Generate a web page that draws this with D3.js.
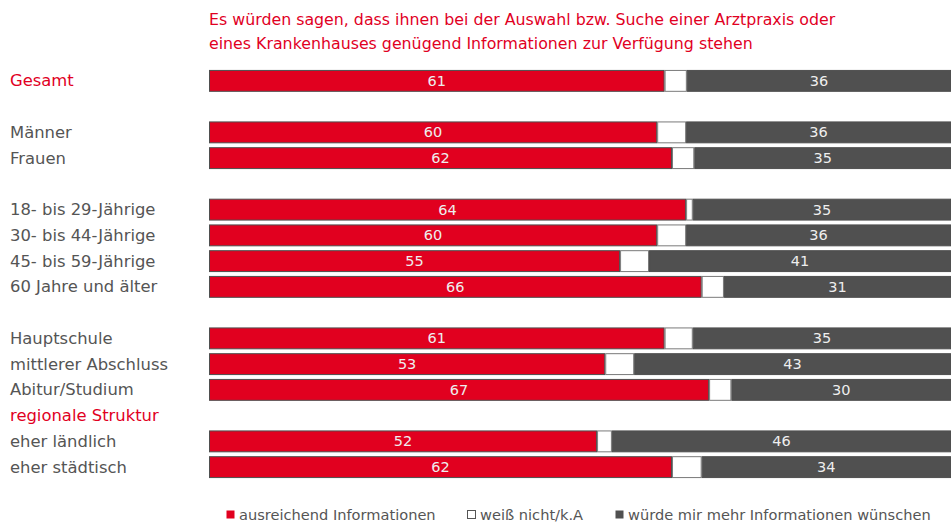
<!DOCTYPE html>
<html>
  <body style="margin:0;background:#fff">
    <style>
      text { font-family: "DejaVu Sans", Verdana, sans-serif; }
    </style>
    <svg id="chart" width="951" height="524"></svg>
    <script src="https://cdn.jsdelivr.net/npm/d3@7"></script>
    <script>
      // rows, '' = spacer, heading rows have no bar
      const rows = ['Gesamt', '', 'Männer', 'Frauen', '', '18- bis 29-Jährige', '30- bis 44-Jährige',
        '45- bis 59-Jährige', '60 Jahre und älter', '', 'Hauptschule', 'mittlerer Abschluss',
        'Abitur/Studium', 'regionale Struktur', 'eher ländlich', 'eher städtisch'];
      const redRows = ['Gesamt', 'regionale Struktur'];
      const categories = ['Gesamt', 'Männer', 'Frauen', '18- bis 29-Jährige', '30- bis 44-Jährige',
        '45- bis 59-Jährige', '60 Jahre und älter', 'Hauptschule', 'mittlerer Abschluss',
        'Abitur/Studium', 'eher ländlich', 'eher städtisch'];
      const ausreichend = [61.4, 60.4, 62.4, 64.3, 60.4, 55.4, 66.4, 61.4, 53.4, 67.4, 52.3, 62.4];
      const mehrInfos = [35.6, 35.7, 34.6, 34.8, 35.7, 40.7, 30.6, 34.8, 42.7, 29.6, 45.7, 33.6];
      const seriesNames = ['ausreichend Informationen', 'weiß nicht/k.A', 'würde mir mehr Informationen wünschen'];
      const title = ['Es würden sagen, dass ihnen bei der Auswahl bzw. Suche einer Arztpraxis oder',
        'eines Krankenhauses genügend Informationen zur Verfügung stehen'];

      const red = '#e1001f', dark = '#505050', grey = '#555555';
      const svg = d3.select('#chart');

      const x = d3.scaleLinear().domain([0, 100]).range([209, 951]);
      const y = d3.scaleBand().domain(d3.range(rows.length)).range([68, 480])
        .paddingInner(0.15).paddingOuter(0.075);

      svg.selectAll('.title').data(title).enter().append('text')
        .attr('x', 209).attr('y', (d, i) => 25 + i * 24)
        .attr('fill', red).attr('font-size', 15.8).text(d => d);

      svg.selectAll('.rowlabel').data(rows).enter().append('text')
        .attr('x', 10)
        .attr('y', (d, i) => y(i) + y.bandwidth() / 2 + 5.5)
        .attr('font-size', 16.4)
        .attr('fill', d => redRows.includes(d) ? red : grey)
        .text(d => d);

      const data = categories.map((c, i) => {
        const a = ausreichend[i], m = mehrInfos[i];
        return { c, row: rows.indexOf(c), segs: [
          { k: 0, x0: 0, x1: a, v: a },
          { k: 1, x0: a, x1: 100 - m, v: 100 - a - m },
          { k: 2, x0: 100 - m, x1: 100, v: m }
        ] };
      });
      const fills = [red, '#ffffff', dark];

      const g = svg.selectAll('.bar').data(data).enter().append('g')
        .attr('transform', d => `translate(0,${y(d.row)})`);
      g.selectAll('rect').data(d => d.segs).enter().append('rect')
        .attr('x', d => x(d.x0) + 0.5)
        .attr('y', 0.5)
        .attr('width', d => Math.max(0, x(d.x1) - x(d.x0) - 1))
        .attr('height', y.bandwidth() - 1)
        .attr('fill', d => fills[d.k])
        .attr('stroke', d => d.k === 1 ? '#7a7a7a' : '#4f4f4f')
        .attr('stroke-width', 1);
      g.selectAll('text').data(d => d.segs.filter(s => s.k !== 1)).enter().append('text')
        .attr('x', d => (x(d.x0) + x(d.x1)) / 2)
        .attr('y', y.bandwidth() / 2 + 5)
        .attr('text-anchor', 'middle')
        .attr('font-size', 14.5)
        .attr('fill', '#eeeeee')
        .text(d => d3.format('.0f')(d.v));

      // legend
      const legX = [226, 467, 615];
      const lg = svg.selectAll('.leg').data(seriesNames).enter().append('g')
        .attr('transform', (d, i) => `translate(${legX[i]},510)`);
      lg.append('rect').attr('x', 0.5).attr('y', 0.5).attr('width', 8).attr('height', 8)
        .attr('fill', (d, i) => fills[i])
        .attr('stroke', (d, i) => i === 1 ? '#555' : 'none');
      lg.append('text').attr('x', 13).attr('y', 9.5).attr('font-size', 14.6)
        .attr('fill', grey).text(d => d);
    </script>
  </body>
</html>
